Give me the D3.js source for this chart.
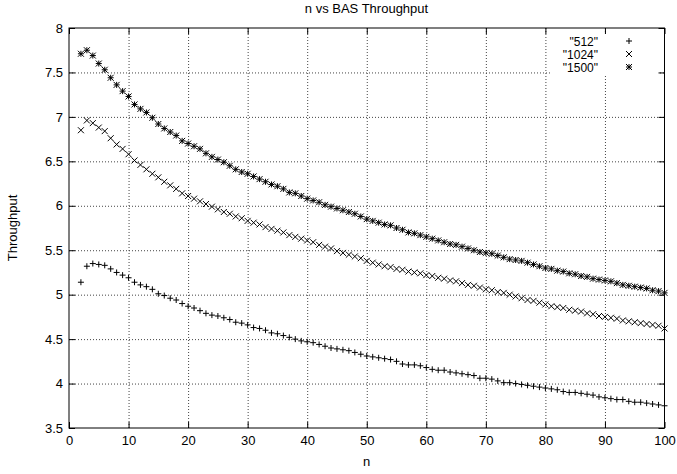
<!DOCTYPE html>
<html>
<head>
<meta charset="utf-8">
<script src="https://cdn.jsdelivr.net/npm/d3@7"></script>
<style>
  html, body { margin: 0; padding: 0; background: #fff; }
  svg { display: block; }
  text { font-family: "Liberation Sans", Arial, Helvetica, sans-serif; fill: #000; }
</style>
</head>
<body>
<svg id="chart" width="677" height="474"></svg>
<script>
// ---- data ----
const nValues = d3.range(2, 101); // n = 2 .. 100

const s512 = [
  5.14, 5.32, 5.35, 5.34, 5.33, 5.29, 5.25, 5.22, 5.19,
  5.14, 5.11, 5.09, 5.06, 5.01, 4.99, 4.96, 4.94, 4.90, 4.87,
  4.85, 4.82, 4.79, 4.77, 4.76, 4.74, 4.72, 4.69, 4.68, 4.66,
  4.63, 4.62, 4.60, 4.57, 4.56, 4.54, 4.52, 4.50, 4.48, 4.47,
  4.46, 4.44, 4.42, 4.40, 4.39, 4.38, 4.37, 4.35, 4.33, 4.31,
  4.30, 4.29, 4.28, 4.27, 4.25, 4.22, 4.21, 4.21, 4.20, 4.18,
  4.16, 4.15, 4.15, 4.13, 4.12, 4.11, 4.10, 4.09, 4.06, 4.06,
  4.05, 4.03, 4.01, 4.01, 4.00, 3.99, 3.98, 3.97, 3.96, 3.95,
  3.94, 3.93, 3.91, 3.90, 3.90, 3.89, 3.88, 3.87, 3.85, 3.84,
  3.83, 3.82, 3.82, 3.80, 3.79, 3.79, 3.78, 3.77, 3.76, 3.75
];

const s1024 = [
  6.85, 6.96, 6.93, 6.88, 6.84, 6.76, 6.69, 6.64, 6.58,
  6.51, 6.46, 6.41, 6.36, 6.32, 6.27, 6.23, 6.19, 6.14, 6.11,
  6.08, 6.05, 6.02, 5.99, 5.96, 5.93, 5.91, 5.88, 5.86, 5.83,
  5.81, 5.79, 5.76, 5.74, 5.72, 5.70, 5.67, 5.65, 5.63, 5.61,
  5.59, 5.56, 5.54, 5.52, 5.49, 5.47, 5.45, 5.43, 5.41, 5.38,
  5.36, 5.34, 5.32, 5.31, 5.29, 5.28, 5.26, 5.25, 5.24, 5.22,
  5.21, 5.19, 5.18, 5.16, 5.15, 5.13, 5.11, 5.10, 5.08, 5.06,
  5.05, 5.03, 5.02, 5.00, 4.98, 4.96, 4.94, 4.93, 4.91, 4.89,
  4.87, 4.86, 4.85, 4.83, 4.82, 4.81, 4.79, 4.78, 4.76, 4.75,
  4.74, 4.73, 4.71, 4.70, 4.69, 4.68, 4.67, 4.66, 4.65, 4.62
];

const s1500 = [
  7.71, 7.75, 7.69, 7.60, 7.53, 7.44, 7.36, 7.29, 7.23,
  7.14, 7.09, 7.05, 6.99, 6.92, 6.87, 6.83, 6.79, 6.73, 6.70,
  6.67, 6.64, 6.59, 6.55, 6.52, 6.49, 6.45, 6.41, 6.38, 6.36,
  6.33, 6.30, 6.27, 6.24, 6.22, 6.19, 6.15, 6.14, 6.11, 6.08,
  6.06, 6.04, 6.01, 5.99, 5.97, 5.95, 5.93, 5.91, 5.88, 5.85,
  5.83, 5.81, 5.79, 5.78, 5.75, 5.73, 5.70, 5.69, 5.67, 5.65,
  5.63, 5.61, 5.59, 5.57, 5.56, 5.54, 5.52, 5.50, 5.48, 5.47,
  5.46, 5.44, 5.42, 5.40, 5.39, 5.38, 5.36, 5.34, 5.32, 5.30,
  5.29, 5.27, 5.26, 5.24, 5.23, 5.21, 5.20, 5.18, 5.17, 5.16,
  5.15, 5.13, 5.11, 5.10, 5.09, 5.08, 5.07, 5.05, 5.04, 5.02
];

const seriesNames = ['"512"', '"1024"', '"1500"'];
const seriesSymbols = ["plus", "cross", "star"];
const xTicks = [0, 10, 20, 30, 40, 50, 60, 70, 80, 90, 100];
const yTicks = [3.5, 4, 4.5, 5, 5.5, 6, 6.5, 7, 7.5, 8];
const titleText = "n vs BAS Throughput";
const xLabel = "n";
const yLabel = "Throughput";

// ---- layout ----
const svg = d3.select("#chart");
const mLeft = 69, mRight = 664.5, mTop = 28, mBottom = 428;
const W = mRight - mLeft, H = mBottom - mTop;

const x = d3.scaleLinear().domain([0, 100]).range([mLeft, mRight]);
const y = d3.scaleLinear().domain([3.5, 8]).range([mBottom, mTop]);

// grid
const gridStyle = g => g.selectAll(".tick line")
  .attr("stroke", "#444").attr("stroke-width", 1).attr("stroke-dasharray", "1,2");
svg.append("g")
  .attr("transform", `translate(0,${mBottom})`)
  .call(d3.axisBottom(x).tickValues(xTicks).tickSize(-H).tickFormat(""))
  .call(g => g.select(".domain").remove())
  .call(g => g.selectAll(".tick").filter(d => d === 0 || d === 100).remove())
  .call(gridStyle);
svg.append("g")
  .attr("transform", `translate(${mLeft},0)`)
  .call(d3.axisLeft(y).tickValues(yTicks).tickSize(-W).tickFormat(""))
  .call(g => g.select(".domain").remove())
  .call(g => g.selectAll(".tick").filter(d => d === 3.5 || d === 8).remove())
  .call(gridStyle);

// legend background (clears grid)
svg.append("rect")
  .attr("x", 552).attr("y", 32).attr("width", 108).attr("height", 44)
  .attr("fill", "#fff");

// axes with inward ticks
const tickStyle = g => {
  g.select(".domain").remove();
  g.selectAll(".tick line").attr("stroke", "#000").attr("stroke-width", 1);
  g.selectAll(".tick text")
    .style("font-family", '"Liberation Sans", Arial, sans-serif')
    .style("font-size", "13px").attr("fill", "#000");
};
svg.append("g")
  .attr("transform", `translate(0,${mBottom})`)
  .call(d3.axisBottom(x).tickValues(xTicks).tickSize(-6).tickPadding(8).tickFormat(d3.format("d")))
  .call(tickStyle);
svg.append("g")
  .attr("transform", `translate(0,${mTop})`)
  .call(d3.axisTop(x).tickValues(xTicks).tickSize(-6).tickFormat(""))
  .call(tickStyle);
svg.append("g")
  .attr("transform", `translate(${mLeft},0)`)
  .call(d3.axisLeft(y).tickValues(yTicks).tickSize(-6).tickPadding(6).tickFormat(d => String(d)))
  .call(tickStyle);
svg.append("g")
  .attr("transform", `translate(${mRight},0)`)
  .call(d3.axisRight(y).tickValues(yTicks).tickSize(-6).tickFormat(""))
  .call(tickStyle);

// border
svg.append("rect")
  .attr("x", mLeft).attr("y", mTop).attr("width", W).attr("height", H)
  .attr("fill", "none").attr("stroke", "#000").attr("stroke-width", 1);

// symbols
const r = 3;
const symbolPath = {
  plus: `M${-r},0H${r}M0,${-r}V${r}`,
  cross: `M${-r},${-r}L${r},${r}M${-r},${r}L${r},${-r}`,
  star: `M${-r},0H${r}M0,${-r}V${r}M${-r},${-r}L${r},${r}M${-r},${r}L${r},${-r}`
};

const allSeries = [s512, s1024, s1500];
allSeries.forEach((vals, i) => {
  svg.append("g")
    .selectAll("path")
    .data(vals.map((v, j) => ({ n: nValues[j], v })))
    .join("path")
    .attr("transform", d => `translate(${x(d.n)},${y(d.v)})`)
    .attr("d", symbolPath[seriesSymbols[i]])
    .attr("fill", "none")
    .attr("stroke", "#000")
    .attr("stroke-width", 1);
});

// legend
const legendRows = [41, 54, 67];
seriesNames.forEach((name, i) => {
  svg.append("text")
    .attr("x", 598).attr("y", legendRows[i] + 4.5)
    .attr("text-anchor", "end")
    .style("font-size", "12px")
    .text(name);
  svg.append("path")
    .attr("transform", `translate(629,${legendRows[i]})`)
    .attr("d", symbolPath[seriesSymbols[i]])
    .attr("fill", "none").attr("stroke", "#000").attr("stroke-width", 1);
});

// title and axis labels
svg.append("text")
  .attr("x", 366.5).attr("y", 13)
  .attr("text-anchor", "middle")
  .style("font-size", "13px")
  .text(titleText);
svg.append("text")
  .attr("x", 366.5).attr("y", 466)
  .attr("text-anchor", "middle")
  .style("font-size", "13px")
  .text(xLabel);
svg.append("text")
  .attr("transform", `translate(17,${(mTop + mBottom) / 2}) rotate(-90)`)
  .attr("text-anchor", "middle")
  .style("font-size", "13px")
  .text(yLabel);
</script>
</body>
</html>
